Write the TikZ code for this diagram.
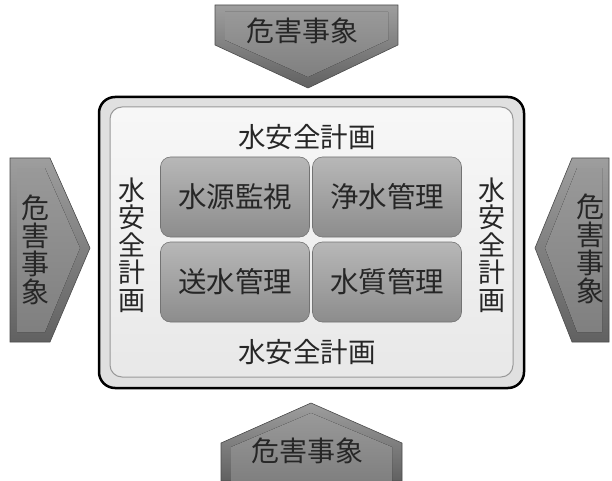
\documentclass[tikz,border=0pt]{standalone}
\usepackage{fontspec}
\newfontfamily\jp{Noto Sans CJK JP}
\begin{document}
\begin{tikzpicture}[x=1pt,y=-1pt,
  arrowbody/.style={draw=black!70,line width=0.6pt,top color=black!38,bottom color=black!62},
  arrowface/.style={top color=black!40,bottom color=black!50,draw=none},
  hazard/.style={font=\jp\fontsize{28}{28}\selectfont,text=black!85,inner sep=0pt},
  vhazard/.style={font=\jp\fontsize{28}{28}\selectfont,text=black!85,inner sep=0pt,align=center},
  plan/.style={font=\jp\fontsize{27.5}{27}\selectfont,text=black!85,inner sep=0pt},
  vplan/.style={font=\jp\fontsize{27}{27.5}\selectfont,text=black!85,inner sep=0pt,align=center},
  task/.style={draw=black!55,line width=0.6pt,rounded corners=10pt,top color=black!28,bottom color=black!45,
    minimum width=149pt,minimum height=80pt,inner sep=0pt,
    font=\jp\fontsize{28.5}{28}\selectfont,text=black!85}
]
\useasboundingbox (0,0) rectangle (612,481);
\fill[white] (0,0) rectangle (612,481);

% top arrow
\draw[arrowbody] (215,5) -- (398,5) -- (398,45) -- (308,88) -- (215,45) -- cycle;
\fill[arrowface] (225,12) -- (388,12) -- (388,40) -- (308,77) -- (225,40) -- cycle;
\node[hazard] (htop) at (302,31) {危害事象};

% bottom arrow
\draw[arrowbody] (221,443) -- (311,403) -- (402,443) -- (402,481) -- (221,481) -- cycle;
\fill[arrowface] (231,447) -- (311,413) -- (392,447) -- (392,481) -- (231,481) -- cycle;
\node[hazard] (hbottom) at (307,451) {危害事象};

% left arrow
\draw[arrowbody] (10,158) -- (50,158) -- (90,248) -- (50,342) -- (10,342) -- cycle;
\fill[arrowface] (17,168) -- (45,168) -- (80,248) -- (45,332) -- (17,332) -- cycle;
\node[vhazard] (hleft) at (35,250) {危\\害\\事\\象};

% right arrow
\draw[arrowbody] (572,158) -- (609,158) -- (609,342) -- (572,342) -- (535,248) -- cycle;
\fill[arrowface] (577,168) -- (602,168) -- (602,332) -- (577,332) -- (545,248) -- cycle;
\node[vhazard] (hright) at (590,249) {危\\害\\事\\象};

% outer frame
\draw[line width=2.5pt,rounded corners=16pt,fill=black!12] (99,97) rectangle (524,388);
\draw[black!40,line width=1pt,rounded corners=12pt,top color=black!3,bottom color=black!9] (110,107) rectangle (513,377);

% labels
\node[plan] (ptop) at (307,137) {水安全計画};
\node[plan] (pbottom) at (307,352) {水安全計画};
\node[vplan] (pleft) at (132,245) {水\\安\\全\\計\\画};
\node[vplan] (pright) at (492,245) {水\\安\\全\\計\\画};

% tasks
\node[task] (t1) at (235,197) {水源監視};
\node[task] (t2) at (387,197) {浄水管理};
\node[task] (t3) at (235,282) {送水管理};
\node[task] (t4) at (387,282) {水質管理};
\end{tikzpicture}
\end{document}
